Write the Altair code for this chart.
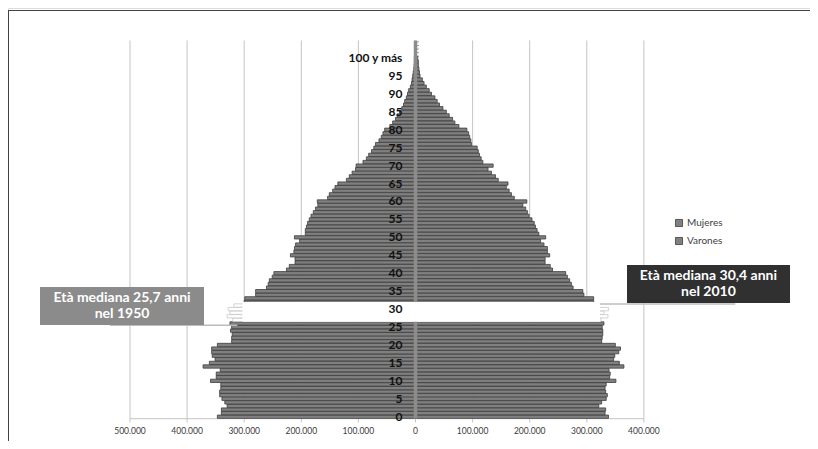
import altair as alt
import pandas as pd

# ---------------- data ----------------
ages = list(range(101))
# Varones (left side), Mujeres (right side) - population by single year of age
varones = [347, 340, 340, 330, 334, 339, 343, 343, 341, 341,
           359, 349, 349, 342, 372, 361, 351, 356, 357, 357,
           347, 322, 322, 321, 324, 322, 325, 320, 330, 325,
           328, 318, 300, 299, 280, 280, 261, 258, 256, 251,
           248, 226, 221, 211, 211, 219, 213, 212, 210, 203,
           212, 193, 193, 191, 189, 186, 183, 179, 175, 171,
           172, 154, 151, 145, 141, 136, 121, 116, 111, 105,
           104, 92, 86, 82, 77, 73, 70, 64, 60, 57,
           54, 45, 40, 35, 32, 28, 24, 21, 19, 16,
           14, 12, 9, 7, 6, 5, 4, 3, 2.5, 2, 2]
mujeres = [338, 332, 333, 321, 326, 334, 336, 333, 332, 334,
           351, 340, 341, 339, 365, 357, 347, 349, 356, 359,
           350, 326, 327, 328, 328, 327, 330, 325, 337, 330,
           338, 320, 312, 312, 295, 293, 276, 273, 270, 266,
           263, 240, 236, 227, 227, 235, 231, 231, 225, 219,
           228, 216, 213, 210, 208, 204, 199, 196, 193, 188,
           195, 173, 168, 164, 159, 162, 145, 140, 133, 127,
           136, 118, 115, 112, 110, 108, 98, 97, 95, 93,
           90, 76, 69, 65, 59, 54, 48, 42, 38, 34,
           28, 24, 19, 15, 12, 8, 7, 6, 5, 5, 4]
hidden_ages = [27, 28, 29, 30, 31]          # bars blanked by the callout band
legend_names = ["Mujeres", "Varones"]

grid_values = [-500000, -400000, -300000, -200000, -100000, 0,
               100000, 200000, 300000, 400000]
grid_labels = ["500.000", "400.000", "300.000", "200.000", "100.000", "0",
               "100.000", "200.000", "300.000", "400.000"]
age_label_pos = [0, 5, 10, 15, 20, 25, 30, 35, 40, 45, 50, 55, 60, 65, 70,
                 75, 80, 85, 90, 95, 100]
age_label_text = ["0", "5", "10", "15", "20", "25", "30", "35", "40", "45",
                  "50", "55", "60", "65", "70", "75", "80", "85", "90", "95",
                  "100 y más"]
top_ticks = [100.5, 101.5, 102.5, 103.5, 104.5]

# callout boxes
note_x = [-657600, 370400]
note_x2 = [-370400, 655900]
note_y = [25.56, 31.70]
note_y2 = [36.16, 42.29]
note_fill = ["#8b8b8b", "#303030"]
# callout text lines
line_text = ["Età mediana 25,7 anni", "nel 1950", "Età mediana 30,4 anni", "nel  2010"]
line_x = [-514000, -514000, 513000, 513000]
line_y = [33.1, 28.6, 39.2, 34.7]

# ---------------- tables ----------------
rows = []
for a, v, m in zip(ages, varones, mujeres):
    rows.append({"age": a, "sexo": "Varones", "v": -v * 1000, "y0": a - 0.46, "y1": a + 0.46,
                 "hidden": a in hidden_ages})
    rows.append({"age": a, "sexo": "Mujeres", "v": m * 1000, "y0": a - 0.46, "y1": a + 0.46,
                 "hidden": a in hidden_ages})
bars = pd.DataFrame(rows)
bars["zero"] = 0

grid_df = pd.DataFrame({"x": grid_values, "lab": grid_labels})
ylab_df = pd.DataFrame({"age": age_label_pos, "lab": age_label_text})
ticks_df = pd.DataFrame({"y": top_ticks})
notes_df = pd.DataFrame({"x": note_x, "x2": note_x2, "y": note_y, "y2": note_y2,
                         "fill": note_fill})
lines_df = pd.DataFrame({"x": line_x, "y": line_y, "txt": line_text})
one = pd.DataFrame({"a": [0]})

XMIN, XMAX = -713660, 690893
YMIN, YMAX = -6.77, 113.94
xs = alt.Scale(domain=[XMIN, XMAX], nice=False, zero=False)
ys = alt.Scale(domain=[YMIN, YMAX], nice=False, zero=False)


def X(f):
    return alt.X(f, scale=xs, axis=None)


def Y(f):
    return alt.Y(f, scale=ys, axis=None)


FONT = "Lato"

frame_top = alt.Chart(one).mark_rule(color="#444444", strokeWidth=1).encode(
    x=alt.value(0), x2=alt.value(802), y=alt.value(2.5))
frame_left = alt.Chart(one).mark_rule(color="#444444", strokeWidth=1).encode(
    x=alt.value(0.5), y=alt.value(2), y2=alt.value(433))

grid = alt.Chart(grid_df).mark_rule(color="#c4c4c4", strokeWidth=1).encode(
    x=X("x:Q"), y=Y("lo:Q"), y2="hi:Q"
).transform_calculate(lo="-1.6", hi="104.9")

baseline = alt.Chart(one).mark_rule(color="#c4c4c4", strokeWidth=1).encode(
    x=X("lo:Q"), x2="hi:Q", y=Y("yy:Q")
).transform_calculate(lo="-500000", hi="400000", yy="-0.55")

ticks = alt.Chart(ticks_df).mark_rule(color="#9a9a9a", strokeWidth=1).encode(
    x=X("lo:Q"), x2="hi:Q", y=Y("y:Q")
).transform_calculate(lo="0", hi="6000")

bar_layer = alt.Chart(bars).transform_filter("!datum.hidden").mark_rect(
    stroke="#3c3c3c", strokeWidth=0.8
).encode(
    x=X("zero:Q"), x2="v:Q", y=Y("y0:Q"), y2="y1:Q",
    fill=alt.Fill("sexo:N",
                  scale=alt.Scale(domain=legend_names, range=["#808080", "#808080"]),
                  legend=alt.Legend(orient="none", legendX=666, legendY=210, title=None,
                                    symbolType="square", symbolSize=50,
                                    symbolStrokeColor="#3c3c3c", symbolStrokeWidth=0.8,
                                    labelFont=FONT, labelFontSize=10, labelColor="#404040",
                                    rowPadding=6, labelOffset=3, padding=0))
)

ghost_layer = alt.Chart(bars).transform_filter("datum.hidden").mark_rect(
    fill="#ffffff", stroke="#c8c8c8", strokeWidth=0.8
).encode(x=X("zero:Q"), x2="v:Q", y=Y("y0:Q"), y2="y1:Q")

center_axis = alt.Chart(one).mark_rule(color="#8c8c8c", strokeWidth=3.5).encode(
    x=X("xx:Q"), y=Y("lo:Q"), y2="hi:Q"
).transform_calculate(xx="0", lo="-0.5", hi="104.9")

band = alt.Chart(one).mark_rect(fill="#ffffff").encode(
    x=X("lo:Q"), x2="hi:Q", y=Y("b:Q"), y2="t:Q"
).transform_calculate(lo="-303000", hi="323000", b="26.5", t="32.0")

shadows = alt.Chart(pd.DataFrame({"x": [-535000, 323000], "x2": [-312000, 560000],
                                  "y": [25.5, 31.45]})).mark_rule(
    color="#bcbcbc", strokeWidth=1.5
).encode(x=X("x:Q"), x2="x2:Q", y=Y("y:Q"))

boxes = alt.Chart(notes_df).mark_rect().encode(
    x=X("x:Q"), x2="x2:Q", y=Y("y:Q"), y2="y2:Q",
    fill=alt.Fill("fill:N", scale=None)
)
box_text = alt.Chart(lines_df).mark_text(
    font=FONT, fontSize=14, fontWeight="bold", color="white",
    align="center", baseline="middle"
).encode(x=X("x:Q"), y=Y("y:Q"), text="txt:N")

ylabels = alt.Chart(ylab_df).mark_text(
    font=FONT, fontSize=12, fontWeight="bold", color="#111111",
    align="right", baseline="middle"
).encode(x=X("xx:Q"), y=Y("age:Q"), text="lab:N").transform_calculate(xx="-23000")

xlabels = alt.Chart(grid_df).mark_text(
    font=FONT, fontSize=8.5, color="#3a3a3a", align="center", baseline="middle"
).encode(x=X("x:Q"), y=Y("yy:Q"), text="lab:N").transform_calculate(yy="-4.0")

chart = alt.layer(
    frame_top, frame_left, grid, baseline, ticks, bar_layer, ghost_layer,
    center_axis, band, shadows, boxes, box_text, ylabels, xlabels
).properties(
    width=802, height=433,
    autosize=alt.AutoSizeParams(type="none"), padding=0
).configure_view(stroke=None).configure(background="white")

chart.save("out.html", embed_options={"renderer": "svg", "actions": False})
